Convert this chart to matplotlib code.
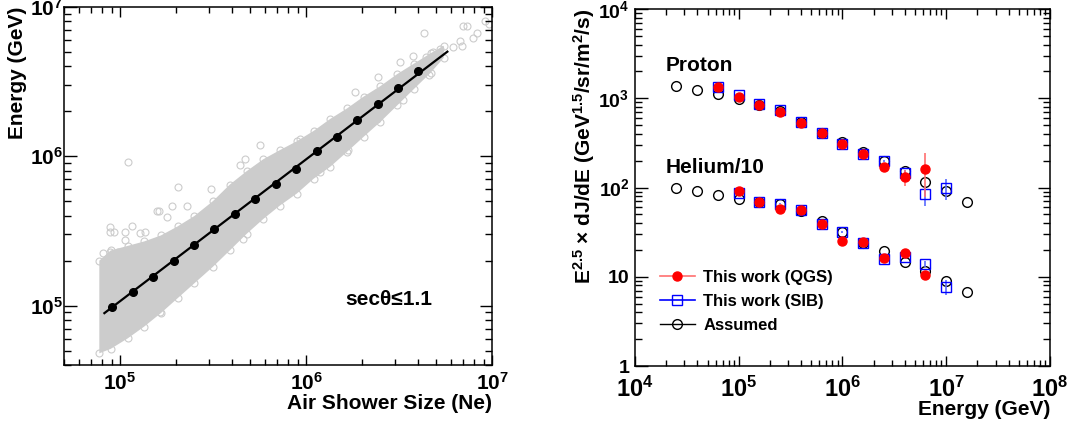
import numpy as np
import matplotlib
matplotlib.use('Agg')
from matplotlib import pyplot as plt
from matplotlib.ticker import FixedLocator, FuncFormatter, LogLocator, NullFormatter
from matplotlib.lines import Line2D

plt.rcParams['font.family'] = ['Liberation Sans', 'DejaVu Sans']
plt.rcParams['font.weight'] = 'bold'
plt.rcParams['axes.labelweight'] = 'bold'
plt.rcParams['mathtext.fontset'] = 'custom'
plt.rcParams['mathtext.rm'] = 'Liberation Sans:bold'
plt.rcParams['mathtext.bf'] = 'Liberation Sans:bold'
plt.rcParams['mathtext.it'] = 'Liberation Sans:bold:italic'
plt.rcParams['mathtext.sf'] = 'Liberation Sans:bold'

# ---- left panel: Ne vs energy ----
# edge of the dense cloud of events (upper / lower)
cloud_x = [7.74e4, 8.91e4, 1.10e5, 1.35e5, 1.66e5, 2.04e5, 2.51e5, 3.16e5, 3.89e5, 4.79e5, 5.89e5,
           7.24e5, 8.91e5, 1.10e6, 1.35e6, 1.66e6, 2.04e6, 2.51e6, 3.09e6, 3.80e6, 4.68e6, 5.50e6]
cloud_up = [2.00e5, 2.34e5, 2.51e5, 2.69e5, 2.95e5, 3.39e5, 3.98e5, 5.01e5, 6.46e5, 7.94e5, 9.55e5,
            1.10e6, 1.26e6, 1.48e6, 1.78e6, 2.09e6, 2.51e6, 2.95e6, 3.55e6, 4.17e6, 4.90e6, 5.50e6]
cloud_lo = [4.79e4, 5.13e4, 6.03e4, 7.24e4, 8.91e4, 1.12e5, 1.41e5, 1.82e5, 2.34e5, 3.02e5, 3.80e5,
            4.68e5, 5.62e5, 7.08e5, 8.51e5, 1.07e6, 1.35e6, 1.70e6, 2.19e6, 2.82e6, 3.63e6, 4.57e6]
# isolated events outside the dense cloud
out_x = [1.11e5, 5.66e5, 2.06e5, 3.1e5, 4.42e5, 4.7e5, 1.59e5, 1.9e5, 8.8e4, 9.3e4, 8.8e4, 1.06e5,
         1.16e5, 1.61e5, 1.78e5, 8.13e4, 8.83e4, 9.8e4, 1.28e5, 1.36e5, 1.64e5, 4.57e5, 2.29e5, 1.06e5,
         1.69e6, 1.19e6, 9.3e5, 1.83e6, 3.2e6, 3.78e6, 4.6e6, 3.34e6, 2.4e6, 5.25e6, 6.2e6,
         4.33e6, 7.0e6, 7.3e6, 9.2e6, 9.6e6, 8.3e6, 7.9e6, 6.9e6, 6.7e6, 4.8e6, 4.4e6, 2.45e6]
out_y = [9.2e5, 1.19e6, 6.2e5, 6.0e5, 8.75e5, 9.55e5, 4.33e5, 4.66e5, 3.38e5, 3.1e5, 3.1e5, 3.13e5,
         3.42e5, 4.33e5, 3.95e5, 2.24e5, 2.3e5, 2.3e5, 3.05e5, 3.13e5, 9.1e4, 2.79e5, 4.65e5, 2.75e5,
         1.1e6, 7.8e5, 1.3e6, 2.69e6, 4.3e6, 4.7e6, 3.5e6, 2.4e6, 1.77e6, 5.2e6, 5.4e6,
         6.67e6, 7.5e6, 7.5e6, 8.0e6, 7.7e6, 6.7e6, 6.2e6, 5.5e6, 5.9e6, 5.0e6, 4.6e6, 3.4e6]
fit_x = [8.24e4, 5.75e6]
fit_y = [8.9e4, 5.02e6]
mean_x = [9.1e4, 1.17e5, 1.51e5, 1.94e5, 2.50e5, 3.21e5, 4.14e5, 5.32e5, 6.87e5, 8.83e5, 1.14e6,
          1.46e6, 1.88e6, 2.43e6, 3.13e6, 4.02e6]
mean_y = [9.85e4, 1.24e5, 1.56e5, 1.99e5, 2.55e5, 3.25e5, 4.11e5, 5.19e5, 6.53e5, 8.28e5, 1.09e6,
          1.35e6, 1.75e6, 2.24e6, 2.88e6, 3.73e6]

# ---- right panel: spectra ----
e_assumed = [2.51e4, 3.98e4, 6.31e4, 1.0e5, 1.58e5, 2.51e5, 3.98e5, 6.31e5, 1.0e6, 1.58e6, 2.51e6,
             3.98e6, 6.31e6, 1.0e7, 1.58e7]
p_assumed = [1377, 1241, 1109, 984, 840, 721, 537, 411, 325, 252, 196, 154, 114, 91, 68]
he_assumed = [99, 91, 83, 75, 69, 66, 54, 42, 31.6, 24, 19.3, 14.6, 11.6, 9.0, 6.7]

e_p_qgs = [6.31e4, 1.0e5, 1.58e5, 2.51e5, 3.98e5, 6.31e5, 1.0e6, 1.58e6, 2.51e6, 3.98e6, 6.31e6]
p_qgs = [1330, 1035, 841, 702, 533, 408, 310, 239, 171, 132, 161]
p_qgs_lo = [20, 15, 12, 10, 8, 7, 6, 6, 6, 28, 82]
p_qgs_hi = [20, 15, 12, 10, 8, 7, 6, 6, 6, 25, 80]

e_p_sib = [6.31e4, 1.0e5, 1.58e5, 2.51e5, 3.98e5, 6.31e5, 1.0e6, 1.58e6, 2.51e6, 3.98e6, 6.31e6, 1.0e7]
p_sib = [1353, 1090, 857, 739, 537, 411, 307, 239, 199, 146, 84, 99]
p_sib_lo = [20, 15, 12, 10, 8, 7, 6, 6, 6, 12, 22, 26]
p_sib_hi = [20, 15, 12, 10, 8, 7, 6, 6, 6, 12, 18, 27]

e_he_qgs = [1.0e5, 1.58e5, 2.51e5, 3.98e5, 6.31e5, 1.0e6, 1.58e6, 2.51e6, 3.98e6, 6.31e6]
he_qgs = [91, 68, 58, 55.7, 39.5, 25.1, 24.5, 16.3, 18.6, 10.4]
he_qgs_err = [1.5, 1, 1, 1, 0.8, 0.6, 0.6, 0.5, 0.8, 1.2]

e_he_sib = [1.0e5, 1.58e5, 2.51e5, 3.98e5, 6.31e5, 1.0e6, 1.58e6, 2.51e6, 3.98e6, 6.31e6, 1.0e7]
he_sib = [87, 68, 66, 56, 39.5, 31.6, 24, 16, 16.8, 14.0, 7.7]
he_sib_lo = [1.5, 1, 1, 1, 0.8, 0.6, 0.6, 0.5, 0.8, 1.0, 1.5]
he_sib_hi = [1.5, 1, 1, 1, 0.8, 0.6, 0.6, 0.5, 0.8, 1.0, 1.4]

legend_labels = ['This work (QGS)', 'This work (SIB)', 'Assumed']

GRAY = '#cccccc'


def log_label(v, pos):
    e = int(round(np.log10(v)))
    if e == 0:
        return '1'
    if e == 1:
        return '10'
    return r'$10^{%d}$' % e


def root_axes(ax, xmaj, ymaj, xsize, ysize, xpad, ypad):
    ax.set_xscale('log')
    ax.set_yscale('log')
    ax.xaxis.set_major_locator(FixedLocator(xmaj))
    ax.yaxis.set_major_locator(FixedLocator(ymaj))
    ax.xaxis.set_minor_locator(LogLocator(base=10, subs=np.arange(2, 10)))
    ax.yaxis.set_minor_locator(LogLocator(base=10, subs=np.arange(2, 10)))
    ax.xaxis.set_major_formatter(FuncFormatter(log_label))
    ax.yaxis.set_major_formatter(FuncFormatter(log_label))
    ax.xaxis.set_minor_formatter(NullFormatter())
    ax.yaxis.set_minor_formatter(NullFormatter())
    ax.tick_params(which='both', direction='in', top=True, right=True, width=1.0)
    ax.tick_params(axis='x', which='major', length=7, labelsize=xsize, pad=xpad)
    ax.tick_params(axis='x', which='minor', length=4)
    ax.tick_params(axis='y', which='major', length=9, labelsize=ysize, pad=ypad)
    ax.tick_params(axis='y', which='minor', length=5)
    for s in ax.spines.values():
        s.set_linewidth(1.1)


fig = plt.figure(figsize=(10.69, 4.25), dpi=100)

# left panel
ax1 = fig.add_axes([0.0599, 0.1412, 0.4004, 0.8424])
poly_x = list(cloud_x) + list(cloud_x[::-1])
poly_y = list(cloud_up) + list(cloud_lo[::-1])
ax1.fill(poly_x, poly_y, color=GRAY, lw=0, zorder=1)
ax1.plot(cloud_x, cloud_up, 'o', ms=5, mfc='none', mec=GRAY, mew=0.8, zorder=1)
ax1.plot(cloud_x, cloud_lo, 'o', ms=5, mfc='none', mec=GRAY, mew=0.8, zorder=1)
ax1.plot(out_x, out_y, 'o', ms=5, mfc='none', mec=GRAY, mew=0.8, zorder=1)
ax1.plot(fit_x, fit_y, '-', color='black', lw=1.6, zorder=3)
ax1.plot(mean_x, mean_y, 'o', color='black', ms=5.5, zorder=4)
ax1.set_xlim(5e4, 1e7)
ax1.set_ylim(4e4, 1e7)
root_axes(ax1, [1e5, 1e6, 1e7], [1e5, 1e6, 1e7], 15, 15, 5, 1)
ax1.set_xlabel('Air Shower Size (Ne)', fontsize=15, loc='right', labelpad=0)
ax1.set_ylabel('Energy (GeV)', fontsize=15, loc='top', labelpad=2)
ax1.text(0.657, 0.168, 'secθ≤1.1', transform=ax1.transAxes, fontsize=15)

# right panel
ax2 = fig.add_axes([0.594, 0.1388, 0.3882, 0.84])
ms_c = 7
ax2.plot(e_assumed, p_assumed, 'o', ms=ms_c, mfc='none', mec='black', mew=1.0, zorder=2)
ax2.plot(e_assumed, he_assumed, 'o', ms=ms_c, mfc='none', mec='black', mew=1.0, zorder=2)
ax2.errorbar(e_p_sib, p_sib, yerr=[p_sib_lo, p_sib_hi], fmt='s', ms=6.5, mfc='none', mec='blue',
             mew=1.0, ecolor='#5a6bff', elinewidth=1.2, capsize=0, zorder=3)
ax2.errorbar(e_he_sib, he_sib, yerr=[he_sib_lo, he_sib_hi], fmt='s', ms=6.5, mfc='none', mec='blue',
             mew=1.0, ecolor='#5a6bff', elinewidth=1.2, capsize=0, zorder=3)
ax2.errorbar(e_p_qgs, p_qgs, yerr=[p_qgs_lo, p_qgs_hi], fmt='o', ms=6.5, color='red',
             ecolor='#ff7070', elinewidth=1.2, capsize=0, zorder=4)
ax2.errorbar(e_he_qgs, he_qgs, yerr=he_qgs_err, fmt='o', ms=6.5, color='red',
             ecolor='#ff7070', elinewidth=1.2, capsize=0, zorder=4)
ax2.set_xlim(1e4, 1e8)
ax2.set_ylim(1, 1e4)
root_axes(ax2, [1e4, 1e5, 1e6, 1e7, 1e8], [1, 10, 1e2, 1e3, 1e4], 17, 14, 7.5, 4)
ax2.set_xlabel('Energy (GeV)', fontsize=15, loc='right', labelpad=-1)
ax2.set_ylabel(r'E$^{2.5}$ $\times$ dJ/dE (GeV$^{1.5}$/sr/m$^2$/s)', fontsize=15, loc='top',
               labelpad=1)
ax2.text(0.075, 0.826, 'Proton', transform=ax2.transAxes, fontsize=15)
ax2.text(0.075, 0.54, 'Helium/10', transform=ax2.transAxes, fontsize=15)

handles = [
    Line2D([], [], color='#ff7070', lw=1.2, marker='o', ms=6.5, mfc='red', mec='red'),
    Line2D([], [], color='blue', lw=1.2, marker='s', ms=6.5, mfc='none', mec='blue'),
    Line2D([], [], color='black', lw=1.0, marker='o', ms=7, mfc='none', mec='black'),
]
ax2.legend(handles, legend_labels, loc='upper left', bbox_to_anchor=(0.06, 0.27), frameon=False,
           fontsize=12, handlelength=2.1, handletextpad=0.5, labelspacing=0.55, borderpad=0,
           borderaxespad=0)

fig.savefig('out.png', dpi=100)
